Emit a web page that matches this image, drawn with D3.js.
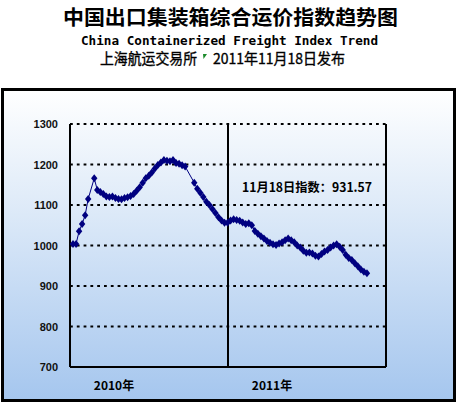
<!DOCTYPE html>
<html>
<head>
<meta charset="utf-8">
<title>CCFI</title>
<script src="https://cdnjs.cloudflare.com/ajax/libs/d3/7.8.5/d3.min.js"></script>
<style>
    body { margin: 0; background: #fff; }
    svg { display: block; }
    .cjk { font-family: "Noto Sans CJK SC", sans-serif; }
    .tick-label { font: bold 11px "Liberation Sans", Arial, sans-serif; fill: #111; }
</style>
</head>
<body>
<svg id="chart" width="457" height="403"></svg>
<script>
// week number counted from the first Friday of 2010 (2010-01-08); gaps = holidays
var weeks = [0, 1, 2, 3, 4, 5, 7, 8, 9, 10, 11, 12, 13, 14, 15, 16, 17, 18, 19, 20,
    21, 22, 23, 24, 25, 26, 27, 28, 29, 30, 31, 32, 33, 34, 35, 36, 37, 40, 41, 42,
    43, 44, 45, 46, 47, 48, 49, 50, 51, 52, 53, 54, 55, 56, 57, 58, 59, 60, 61, 62,
    63, 64, 65, 66, 67, 68, 69, 70, 71, 72, 73, 74, 75, 76, 77, 78, 79, 80, 81, 82,
    83, 84, 85, 86, 87, 88, 89, 90, 91, 92, 93, 94, 95, 96, 97];
var ccfi = [1004, 1004, 1035, 1053, 1075, 1115, 1166, 1137, 1132, 1127, 1121, 1120, 1121, 1117, 1115, 1114, 1117, 1119, 1122, 1127,
    1135, 1144, 1155, 1166, 1172, 1180, 1190, 1199, 1205, 1211, 1209, 1208, 1211, 1204, 1202, 1198, 1195, 1155, 1140, 1130,
    1120, 1108, 1100, 1090, 1080, 1070, 1062, 1056, 1056, 1062, 1065, 1063, 1061, 1057, 1053, 1055, 1050, 1036, 1029, 1023,
    1017, 1011, 1007, 1003, 1001, 1005, 1008, 1013, 1017, 1013, 1008, 1000, 995, 987, 982, 983, 980, 975, 973, 979,
    985, 989, 995, 1000, 1003, 997, 989, 977, 969, 964, 956, 949, 941, 935, 931.57];
var yTicks = [700, 800, 900, 1000, 1100, 1200, 1300];
var years = ["2010", "2011"];

var firstFriday = new Date(2010, 0, 8);
var data = weeks.map(function(w, i) {
    return { date: d3.timeDay.offset(firstFriday, w * 7), value: ccfi[i] };
});

var svg = d3.select("#chart");

// background gradient box
var grad = svg.append("defs").append("linearGradient")
    .attr("id", "bg").attr("x1", 0).attr("y1", 0).attr("x2", 0).attr("y2", 1);
grad.append("stop").attr("offset", "0%").attr("stop-color", "#ffffff");
grad.append("stop").attr("offset", "40%").attr("stop-color", "#dce9f8");
grad.append("stop").attr("offset", "100%").attr("stop-color", "#a5c6ee");

svg.append("rect")
    .attr("x", 2.5).attr("y", 89.5).attr("width", 452).attr("height", 311)
    .attr("fill", "url(#bg)").attr("stroke", "#000").attr("stroke-width", 3);

// titles
svg.append("text").attr("class", "cjk")
    .attr("x", 230.5).attr("y", 25).attr("text-anchor", "middle")
    .attr("textLength", 335).attr("lengthAdjust", "spacingAndGlyphs")
    .style("font-size", "20px").style("font-weight", "bold")
    .text("中国出口集装箱综合运价指数趋势图");

svg.append("text")
    .attr("x", 229.5).attr("y", 45).attr("text-anchor", "middle")
    .attr("textLength", 297).attr("lengthAdjust", "spacingAndGlyphs")
    .style("font", "bold 12.5px 'DejaVu Sans Mono', monospace")
    .text("China Containerized Freight Index Trend");

svg.append("text").attr("class", "cjk")
    .attr("x", 100).attr("y", 64)
    .attr("textLength", 97).attr("lengthAdjust", "spacingAndGlyphs")
    .attr("stroke", "#000").attr("stroke-width", 0.35)
    .style("font-size", "15px")
    .text("上海航运交易所");

svg.append("path")
    .attr("d", "M203,54L207,54L203.5,59Z")
    .attr("fill", "#1a8a2a");

svg.append("text").attr("class", "cjk")
    .attr("x", 213).attr("y", 64)
    .attr("textLength", 132).attr("lengthAdjust", "spacingAndGlyphs")
    .attr("stroke", "#000").attr("stroke-width", 0.35)
    .style("font-size", "15px")
    .text("2011年11月18日发布");

// scales
var x = d3.scaleTime()
    .domain([new Date(2010, 0, 1), new Date(2012, 0, 1)])
    .range([70, 386]);
var y = d3.scaleLinear()
    .domain([700, 1300])
    .range([367, 124]);

// dotted gridlines
svg.append("g").selectAll("line")
    .data(yTicks.filter(function(d) { return d > 700; }))
    .enter().append("line")
    .attr("x1", x.range()[0]).attr("x2", x.range()[1])
    .attr("y1", function(d) { return y(d); })
    .attr("y2", function(d) { return y(d); })
    .attr("stroke", "#000").attr("stroke-width", 2)
    .attr("stroke-dasharray", "2.8,4");

// frame: left, bottom, right + year divider
var frame = svg.append("g").attr("stroke", "#000").attr("stroke-width", 2);
frame.append("line").attr("x1", 70).attr("x2", 70).attr("y1", y(1300)).attr("y2", y(700));
frame.append("line").attr("x1", 70).attr("x2", 386).attr("y1", y(700)).attr("y2", y(700));
frame.append("line").attr("x1", 386).attr("x2", 386).attr("y1", y(1300)).attr("y2", y(700));
frame.append("line")
    .attr("x1", x(new Date(2011, 0, 1))).attr("x2", x(new Date(2011, 0, 1)))
    .attr("y1", y(1300)).attr("y2", y(700));

// y labels
svg.append("g").selectAll("text")
    .data(yTicks)
    .enter().append("text")
    .attr("class", "tick-label")
    .attr("x", 58).attr("y", function(d) { return y(d) + 4; })
    .attr("text-anchor", "end")
    .text(function(d) { return d; });

// year labels
svg.append("g").selectAll("text")
    .data(years)
    .enter().append("text")
    .attr("class", "cjk")
    .attr("x", function(d) { return x(new Date(+d, 0, 1)) + 44; })
    .attr("y", 390)
    .attr("text-anchor", "middle")
    .style("font-size", "12px").style("font-weight", "bold")
    .text(function(d) { return d + "年"; });

// series
var line = d3.line()
    .x(function(d) { return x(d.date); })
    .y(function(d) { return y(d.value); });

svg.append("path")
    .datum(data)
    .attr("d", line)
    .attr("fill", "none")
    .attr("stroke", "#000080")
    .attr("stroke-width", 1);

svg.append("g").selectAll("path")
    .data(data)
    .enter().append("path")
    .attr("d", function(d) {
        var cx = x(d.date), cy = y(d.value);
        return "M" + cx + "," + (cy - 4) + "L" + (cx + 3.2) + "," + cy +
            "L" + cx + "," + (cy + 4) + "L" + (cx - 3.2) + "," + cy + "Z";
    })
    .attr("fill", "#000080");

// latest value note
var last = data[data.length - 1];
svg.append("text").attr("class", "cjk")
    .attr("x", 242).attr("y", 192)
    .attr("textLength", 130).attr("lengthAdjust", "spacingAndGlyphs")
    .style("font-size", "12.5px").style("font-weight", "bold")
    .text("11月18日指数：" + last.value);
</script>
</body>
</html>
